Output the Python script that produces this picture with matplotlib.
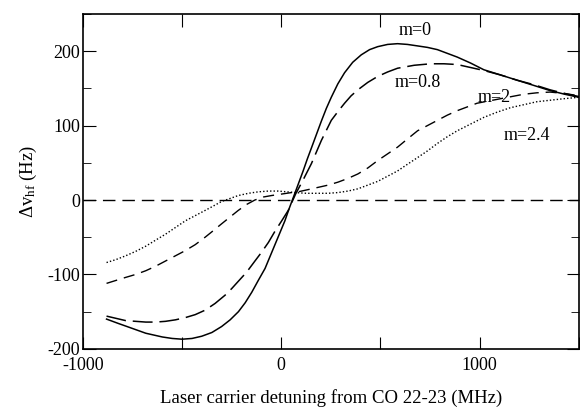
import numpy as np
import matplotlib.pyplot as plt
from matplotlib.ticker import MultipleLocator, FuncFormatter

plt.rcParams['font.family'] = ['Liberation Serif', 'DejaVu Serif']
plt.rcParams['mathtext.fontset'] = 'custom'
plt.rcParams['mathtext.rm'] = 'Liberation Serif'
plt.rcParams['mathtext.it'] = 'Liberation Serif:italic'
plt.rcParams['axes.unicode_minus'] = False

# m = 0 (solid)
x_m0 = [-881, -820, -767, -683, -600, -550, -500, -450, -401, -350, -301, -258, -216, -182,
        -149, -116, -82, -57, -32, -7, 18, 39, 60, 85, 110, 131, 152, 177, 202, 227, 252,
        285, 319, 360, 403, 445, 486, 536, 586, 636, 687, 737, 787, 837, 887, 954, 1021,
        1105, 1188, 1272, 1355, 1430, 1500]
y_m0 = [-160, -166, -171, -179, -184, -186, -187, -186, -183, -178, -170, -161, -150, -138,
        -124, -108, -92, -76, -60, -44, -28, -12, 3, 21, 39, 55, 70, 88, 106, 123, 138,
        156, 171, 185, 195, 202, 206, 209, 210, 209, 207, 205, 202, 197, 192, 184, 175,
        168, 161, 154, 147, 142, 138]

# m = 0.8 (long dash)
x_m08 = [-881, -833, -785, -734, -683, -634, -584, -534, -484, -434, -384, -334, -284, -250,
         -216, -175, -133, -99, -65, -32, 2, 35, 72, 110, 152, 202, 252, 286, 319, 352, 386,
         436, 486, 536, 586, 628, 670, 712, 753, 820, 887, 954, 1021, 1105, 1188, 1272,
         1355, 1430, 1500]
y_m08 = [-156, -159, -162, -163, -164, -164, -163, -161, -158, -154, -148, -139, -128, -119,
         -109, -97, -82, -70, -57, -42, -28, -14, 8, 27, 49, 80, 107, 119, 130, 140, 148,
         158, 166, 172, 177, 179, 181, 182, 183, 183, 182, 178, 174, 168, 161, 155,
         148, 143, 139]

# m = 2 (medium dash)
x_m2 = [-881, -833, -785, -734, -683, -634, -584, -534, -484, -434, -384, -342, -301, -259,
        -217, -175, -133, -91, -49, 2, 52, 85, 136, 186, 236, 286, 336, 386, 436, 486, 536,
        586, 636, 687, 737, 787, 837, 887, 937, 987, 1045, 1104, 1162, 1221, 1288, 1355,
        1430, 1500]
y_m2 = [-112, -108, -104, -100, -95, -89, -82, -75, -68, -60, -50, -41, -32, -23,
        -14, -6, 0, 4, 6, 8, 10, 11, 14, 17, 20, 24, 29, 35, 43, 53, 62,
        71, 82, 93, 100, 107, 114, 120, 125, 130, 133, 136, 139, 142, 144, 145,
        143, 140]

# m = 2.4 (dotted)
x_m24 = [-881, -833, -785, -734, -683, -634, -584, -534, -484, -434, -384, -342, -301, -259,
         -217, -166, -115, -65, -15, 27, 68, 127, 186, 236, 286, 336, 386, 436, 486, 536,
         586, 636, 687, 737, 787, 837, 887, 954, 1021, 1088, 1155, 1222, 1288, 1355, 1422,
         1500]
y_m24 = [-84, -80, -75, -69, -62, -54, -46, -37, -28, -21, -14, -8, -2, 2,
         6, 9, 11, 12, 12, 11, 10, 9, 9, 9, 10, 12, 15, 20, 25, 32,
         39, 48, 57, 66, 76, 85, 93, 102, 111, 118, 124, 128, 132, 134, 136,
         138]

labels = ['m=0', 'm=0.8', 'm=2', 'm=2.4']
label_pos = [(675, 228), (690, 158), (1075, 138), (1240, 87)]

fig = plt.figure(figsize=(5.8, 4.09), dpi=100)
ax = fig.add_axes([0.143, 0.147, 0.855, 0.819])

ax.axhline(0, color='black', lw=1.0, dashes=(9, 5))
ax.plot(x_m0, y_m0, color='black', lw=1.1, solid_joinstyle='round')
ax.plot(x_m08, y_m08, color='black', lw=1.1, dashes=(13, 4.5), dash_joinstyle='round')
ax.plot(x_m2, y_m2, color='black', lw=1.0, dashes=(8, 5), dash_joinstyle='round')
ax.plot(x_m24, y_m24, color='black', lw=1.0, dashes=(1, 1.5))

for lab, (tx, ty) in zip(labels, label_pos):
    ax.text(tx, ty, lab, fontsize=13, ha='center', va='center')

ax.set_xlim(-1000, 1500)
ax.set_ylim(-200, 250)
ax.xaxis.set_major_locator(MultipleLocator(500))
ax.xaxis.set_major_formatter(FuncFormatter(lambda v, p: '%d' % v if v % 1000 == 0 else ''))
ax.yaxis.set_major_locator(MultipleLocator(100))
ax.yaxis.set_minor_locator(MultipleLocator(50))
ax.tick_params(which='both', direction='in', top=True, right=True, labelsize=13)
ax.tick_params(axis='x', which='major', length=9, pad=6)
ax.tick_params(axis='y', which='major', length=9, pad=2)
ax.tick_params(axis='y', which='minor', length=6)
for s in ax.spines.values():
    s.set_linewidth(1.2)

ax.set_xlabel('Laser carrier detuning from CO 22-23 (MHz)', fontsize=13.5, labelpad=11)
ax.set_ylabel(r'$\Delta\mathrm{v}_{\mathrm{hf}}$ (Hz)', fontsize=13.5, labelpad=6)

fig.savefig('out.png', dpi=100)
